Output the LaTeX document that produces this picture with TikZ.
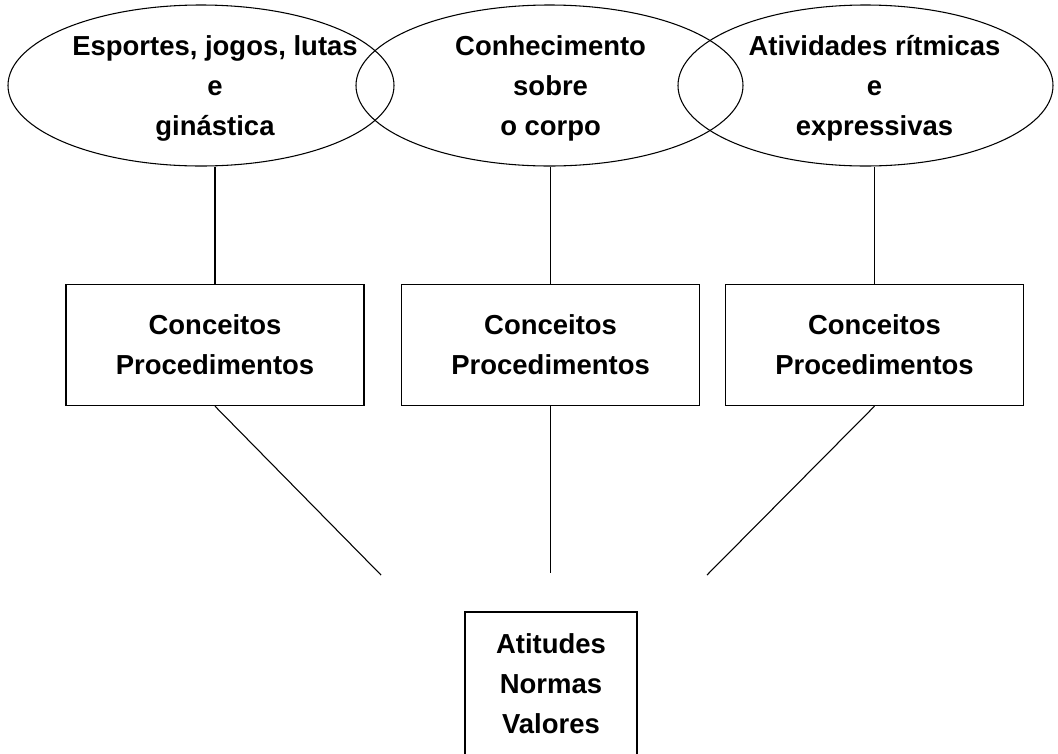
\documentclass[tikz,border=0pt]{standalone}
\usepackage{fontspec}
\setmainfont{Liberation Sans}
\usetikzlibrary{shapes.geometric}
\tikzset{
  oval/.style={draw, ellipse, minimum height=120.75pt, inner sep=0pt},
  ovaltext/.style={align=center, yshift=-2pt, font=\bfseries\fontsize{20.6}{30}\selectfont},
  block/.style={draw, rectangle, minimum width=223.5pt, minimum height=91pt, inner sep=0pt, align=center, font=\bfseries\fontsize{20.6}{30}\selectfont},
}
\begin{document}
\begin{tikzpicture}[x=0.75pt, y=-0.75pt, line width=0.8pt]
\useasboundingbox (0,0) rectangle (1058,754);
\clip (0,0) rectangle (1058,754);
% boxes
\node[block] (cp-esp) at (215,345) {Conceitos\\Procedimentos};
\node[block] (cp-corpo) at (550.6,345) {Conceitos\\Procedimentos};
\node[block] (cp-ritmo) at (874.5,345) {Conceitos\\Procedimentos};
\node[block, minimum width=129pt, minimum height=108pt] (anv) at (551,684) {Atitudes\\Normas\\Valores};
% ellipses on top
\node[oval, minimum width=289.5pt] (esportes) at (201,85.5) {};
\node[oval, minimum width=290.25pt] (corpo) at (549.5,85.5) {};
\node[oval, minimum width=281.25pt] (ritmo) at (865.5,85.5) {};
\node[ovaltext] (esportes-t) at (cp-esp.north |- esportes.center) {Esportes, jogos, lutas\\e\\ginástica};
\node[ovaltext] (corpo-t) at (cp-corpo.north |- corpo.center) {Conhecimento\\sobre\\o corpo};
\node[ovaltext] (ritmo-t) at (cp-ritmo.north |- ritmo.center) {Atividades rítmicas\\e\\expressivas};
\coordinate (end-esp) at (381,575);
\coordinate (end-corpo) at (550.6,573);
\coordinate (end-ritmo) at (707,575);
\draw (cp-esp.north) -- (cp-esp.north |- esportes.south);
\draw (cp-corpo.north) -- (cp-corpo.north |- corpo.south);
\draw (cp-ritmo.north) -- (cp-ritmo.north |- ritmo.south);
\draw (cp-esp.south) -- (end-esp);
\draw (cp-corpo.south) -- (end-corpo);
\draw (cp-ritmo.south) -- (end-ritmo);
\end{tikzpicture}
\end{document}
